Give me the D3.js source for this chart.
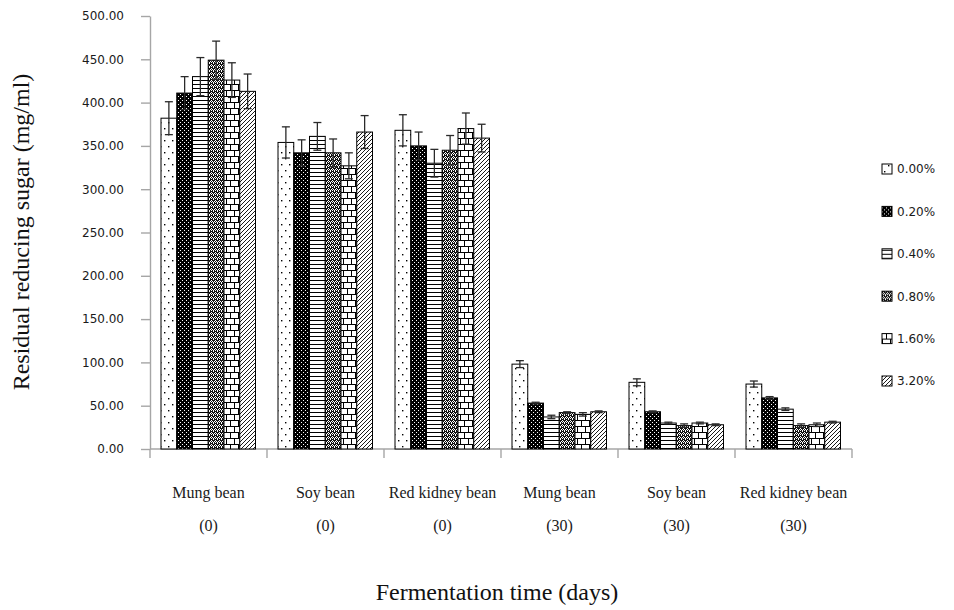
<!DOCTYPE html>
<html>
<head>
<meta charset="utf-8">
<script src="https://cdn.jsdelivr.net/npm/d3@7/dist/d3.min.js"></script>
<style>
  html, body { margin: 0; padding: 0; background: #fff; }
  svg { display: block; }
</style>
</head>
<body>
<svg id="chart" width="954" height="610"></svg>
<script>
// Beans and fermentation time (days) for each group
const beans = ["Mung bean", "Soy bean", "Red kidney bean", "Mung bean", "Soy bean", "Red kidney bean"];
const days = ["(0)", "(0)", "(0)", "(30)", "(30)", "(30)"];
// Concentration levels shown as series
const levels = ["0.00%", "0.20%", "0.40%", "0.80%", "1.60%", "3.20%"];
// Mean residual reducing sugar (mg/ml), one row per group, one column per level
const means = [
  [382, 411, 430, 449, 426, 413],
  [354, 342, 361, 342, 327, 366],
  [368, 350, 330, 345, 370, 359],
  [98, 53, 37, 42, 40, 43],
  [77, 43, 30, 27, 30, 28],
  [75, 59, 46, 27, 28, 31]
];
// Standard deviations, same layout
const errors = [
  [19, 19, 22, 22, 20, 20],
  [18, 15, 16, 16, 15, 19],
  [18, 16, 16, 17, 18, 16],
  [4, 1, 2, 1, 2, 1],
  [4, 1, 1, 2, 1, 1],
  [3.5, 1.5, 1.5, 2, 2, 1]
];
const yTicks = [0, 50, 100, 150, 200, 250, 300, 350, 400, 450, 500];

const svg = d3.select("#chart");
const groupIds = d3.range(beans.length);

const plot = { left: 150, right: 852, top: 16, bottom: 449 };

const x0 = d3.scaleBand().domain(groupIds).range([plot.left, plot.right]).padding(0);
const x1 = d3.scaleBand().domain(levels).range([11, x0.bandwidth() - 11.5]).padding(0);
const y = d3.scaleLinear().domain([0, 500]).range([plot.bottom, plot.top]);

// Monochrome fill patterns, one per level
const defs = svg.append("defs");
function pat(id, w, h) {
  return defs.append("pattern").attr("id", id).attr("patternUnits", "userSpaceOnUse")
    .attr("width", w).attr("height", h);
}
// 0.00% : sparse dots
let p = pat("p0", 8, 12);
p.append("rect").attr("width", 8).attr("height", 12).attr("fill", "#fff");
p.append("rect").attr("x", 2).attr("y", 2).attr("width", 1.4).attr("height", 1.4).attr("fill", "#000");
p.append("rect").attr("x", 6).attr("y", 8).attr("width", 1.4).attr("height", 1.4).attr("fill", "#000");
// 0.20% : black with small white dots
p = pat("p1", 4, 4);
p.append("rect").attr("width", 4).attr("height", 4).attr("fill", "#000");
p.append("rect").attr("x", 0).attr("y", 0).attr("width", 1).attr("height", 1).attr("fill", "#fff");
p.append("rect").attr("x", 2).attr("y", 2).attr("width", 1).attr("height", 1).attr("fill", "#fff");
// 0.40% : horizontal lines
p = pat("p2", 4, 4);
p.append("rect").attr("width", 4).attr("height", 4).attr("fill", "#fff");
p.append("rect").attr("x", 0).attr("y", 0).attr("width", 4).attr("height", 1).attr("fill", "#000");
// 0.80% : diamond checks
p = pat("p3", 4, 4);
p.append("rect").attr("width", 4).attr("height", 4).attr("fill", "#111");
[[1, 0], [0, 1], [2, 1], [1, 2], [3, 2], [3, 3]].forEach(([a, b]) =>
  p.append("rect").attr("x", a).attr("y", b).attr("width", 1).attr("height", 1).attr("fill", "#fff"));
// 1.60% : bricks
p = pat("p4", 8, 12);
p.append("rect").attr("width", 8).attr("height", 12).attr("fill", "#fff");
p.append("path").attr("d", "M0,0.5H8M0,6.5H8M0.5,0V6.5M4.5,6.5V12")
  .attr("stroke", "#000").attr("stroke-width", 1).attr("fill", "none");
// 3.20% : forward diagonals
p = pat("p5", 4, 4);
p.append("rect").attr("width", 4).attr("height", 4).attr("fill", "#fff");
p.append("path").attr("d", "M0,4L4,0M-1,1L1,-1M3,5L5,3")
  .attr("stroke", "#000").attr("stroke-width", 0.9).attr("fill", "none");

const fills = levels.map((_, i) => `url(#p${i})`);

// Axes
const axisColor = "#a6a6a6";
const yAxis = svg.append("g").attr("transform", `translate(${plot.left},0)`)
  .call(d3.axisLeft(y).tickValues(yTicks).tickFormat(d3.format(".2f"))
    .tickSize(9).tickSizeOuter(0).tickPadding(17));
yAxis.selectAll("path, line").attr("stroke", axisColor).attr("stroke-width", 1.4);
yAxis.selectAll("text").attr("font-family", "DejaVu Sans, Tahoma, sans-serif")
  .attr("font-size", 12).attr("fill", "#1a1a1a");

// Category axis with ticks at group boundaries
const xAxis = svg.append("g");
xAxis.append("line").attr("x1", x0(0)).attr("x2", x0(groupIds.length - 1) + x0.bandwidth())
  .attr("y1", y(0)).attr("y2", y(0)).attr("stroke", axisColor).attr("stroke-width", 1.4);
const bounds = groupIds.map(g => x0(g)).concat([x0(groupIds.length - 1) + x0.bandwidth()]);
xAxis.selectAll("line.tick").data(bounds).join("line").attr("class", "tick")
  .attr("x1", d => d).attr("x2", d => d).attr("y1", y(0)).attr("y2", y(0) + 9)
  .attr("stroke", axisColor).attr("stroke-width", 1.4);

// Bars
const groups = svg.append("g").selectAll("g").data(groupIds).join("g")
  .attr("transform", g => `translate(${x0(g)},0)`);

groups.selectAll("rect").data(g => levels.map((lv, i) => ({ lv, i, v: means[g][i] })))
  .join("rect")
  .attr("x", d => x1(d.lv)).attr("width", x1.bandwidth())
  .attr("y", d => y(d.v)).attr("height", d => y(0) - y(d.v))
  .attr("fill", d => fills[d.i]).attr("stroke", "#000").attr("stroke-width", 1);

// Error bars
const eb = groups.selectAll("g.err").data(g => levels.map((lv, i) => ({ lv, v: means[g][i], e: errors[g][i] })))
  .join("g").attr("class", "err")
  .attr("transform", d => `translate(${x1(d.lv) + x1.bandwidth() / 2},0)`)
  .attr("stroke", "#2a2a2a").attr("stroke-width", 1.3);
eb.append("line").attr("y1", d => y(d.v - d.e)).attr("y2", d => y(d.v + d.e));
eb.append("line").attr("x1", -4).attr("x2", 4).attr("y1", d => y(d.v + d.e)).attr("y2", d => y(d.v + d.e));
eb.append("line").attr("x1", -4).attr("x2", 4).attr("y1", d => y(d.v - d.e)).attr("y2", d => y(d.v - d.e));

// Category labels (two lines)
const serif = "Liberation Serif, Times New Roman, serif";
const lab = svg.append("g").attr("font-family", serif).attr("font-size", 16)
  .attr("fill", "#1a1a1a").attr("text-anchor", "middle");
lab.selectAll("text.bean").data(groupIds).join("text").attr("class", "bean")
  .attr("x", g => x0(g) + x0.bandwidth() / 2).attr("y", 498).text(g => beans[g]);
lab.selectAll("text.day").data(groupIds).join("text").attr("class", "day")
  .attr("x", g => x0(g) + x0.bandwidth() / 2).attr("y", 531).text(g => days[g]);

// Axis titles
svg.append("text").attr("x", 497).attr("y", 600).attr("text-anchor", "middle")
  .attr("font-family", serif).attr("font-size", 24).attr("fill", "#111")
  .text("Fermentation time (days)");
svg.append("text").attr("transform", "translate(29,232) rotate(-90)").attr("text-anchor", "middle")
  .attr("font-family", serif).attr("font-size", 24).attr("fill", "#111")
  .text("Residual reducing sugar (mg/ml)");

// Legend
const legend = svg.append("g").selectAll("g").data(levels).join("g")
  .attr("transform", (d, i) => `translate(882,${169 + i * 42.4})`);
legend.append("rect").attr("x", 0).attr("y", -5).attr("width", 10).attr("height", 10)
  .attr("fill", (d, i) => fills[i]).attr("stroke", "#000").attr("stroke-width", 1);
legend.append("text").attr("x", 15).attr("y", 0).attr("dy", "0.36em")
  .attr("font-family", "DejaVu Sans, Tahoma, sans-serif").attr("font-size", 12)
  .attr("fill", "#1a1a1a").text(d => d);
</script>
</body>
</html>
